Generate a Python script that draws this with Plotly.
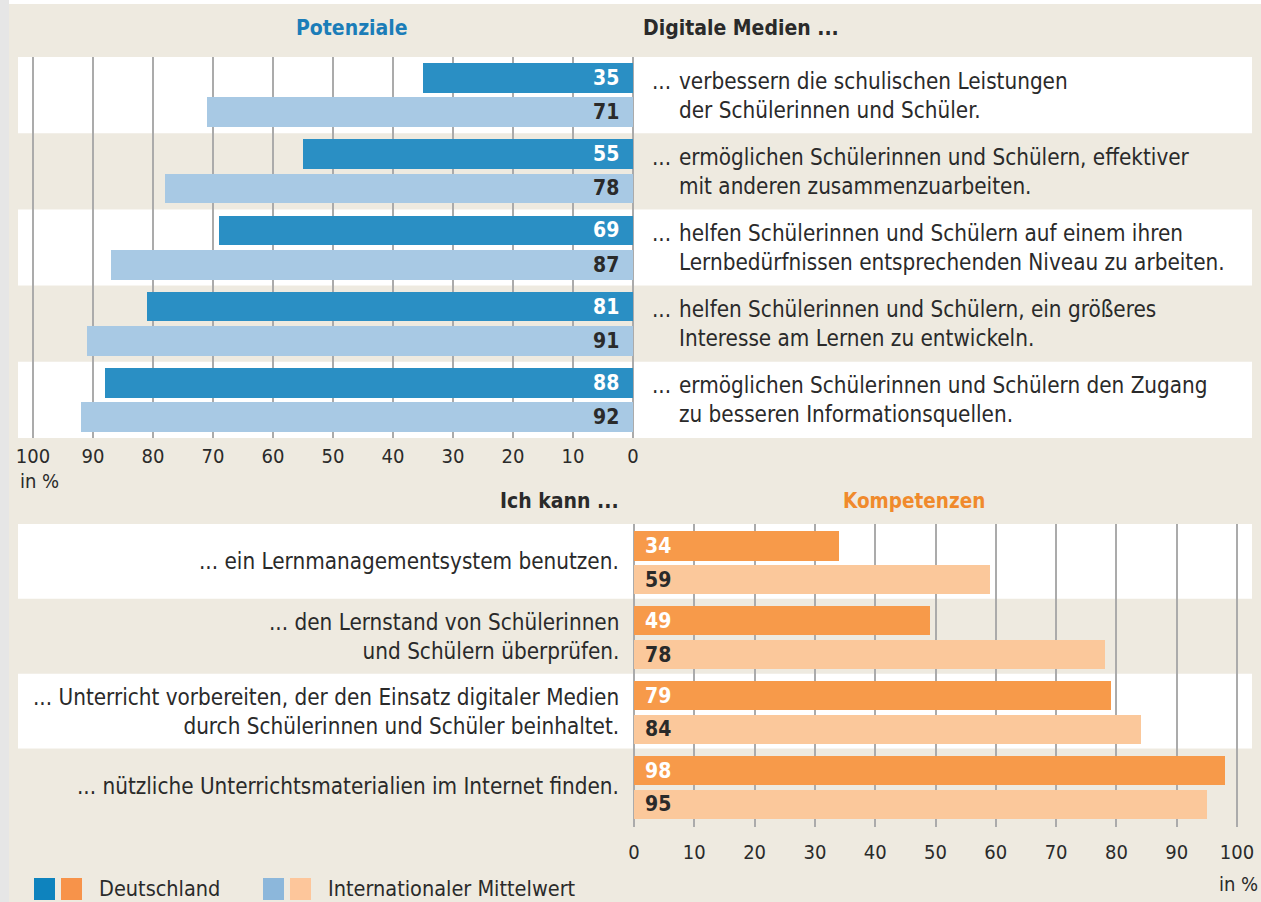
import plotly.graph_objects as go

W, H = 1261, 902

# ---------------- data ----------------
pot_labels = [
    ["verbessern die schulischen Leistungen", "der Schülerinnen und Schüler."],
    ["ermöglichen Schülerinnen und Schülern, effektiver", "mit anderen zusammenzuarbeiten."],
    ["helfen Schülerinnen und Schülern auf einem ihren", "Lernbedürfnissen entsprechenden Niveau zu arbeiten."],
    ["helfen Schülerinnen und Schülern, ein größeres", "Interesse am Lernen zu entwickeln."],
    ["ermöglichen Schülerinnen und Schülern den Zugang", "zu besseren Informationsquellen."],
]
pot_de = [35, 55, 69, 81, 88]
pot_int = [71, 78, 87, 91, 92]

komp_labels = [
    "... ein Lernmanagementsystem benutzen.",
    "... den Lernstand von Schülerinnen<br>und Schülern überprüfen.",
    "... Unterricht vorbereiten, der den Einsatz digitaler Medien<br>durch Schülerinnen und Schüler beinhaltet.",
    "... nützliche Unterrichtsmaterialien im Internet finden.",
]
komp_de = [34, 49, 79, 98]
komp_int = [59, 78, 84, 95]

tick_vals = [0, 10, 20, 30, 40, 50, 60, 70, 80, 90, 100]
tick_text = ["0", "10", "20", "30", "40", "50", "60", "70", "80", "90", "100"]

legend_names = ["Deutschland", "Internationaler Mittelwert"]

# ---------------- style ----------------
FONT = "Liberation Sans Narrow, DejaVu Sans Condensed, Arial Narrow, sans-serif"
BEIGE = "#EEEAE0"
TXT = "#2a2a2a"
GRID = "#ABABAB"
BLUE = "#2A8FC4"
LBLUE = "#A8C9E4"
ORANGE = "#F79A4A"
LORANGE = "#FBC89B"


def X(px):
    return px / W


def Y(py):
    return 1 - py / H


BW = 0.39
DE_OFF = -0.42
INT_OFF = 0.03
PAD = 0.4  # range padding (in %) so that 0 and 100 gridlines are drawn

fig = go.Figure()

top_y = list(range(len(pot_de)))
bot_y = list(range(len(komp_de)))

fig.add_trace(go.Bar(x=pot_de, y=top_y, orientation="h", marker=dict(color=BLUE, line=dict(width=0)),
                     width=BW, offset=DE_OFF, xaxis="x", yaxis="y", showlegend=False, hoverinfo="x"))
fig.add_trace(go.Bar(x=pot_int, y=top_y, orientation="h", marker=dict(color=LBLUE, line=dict(width=0)),
                     width=BW, offset=INT_OFF, xaxis="x", yaxis="y", showlegend=False, hoverinfo="x"))
fig.add_trace(go.Bar(x=komp_de, y=bot_y, orientation="h", marker=dict(color=ORANGE, line=dict(width=0)),
                     width=BW, offset=DE_OFF + 0.02, xaxis="x2", yaxis="y2", showlegend=False, hoverinfo="x"))
fig.add_trace(go.Bar(x=komp_int, y=bot_y, orientation="h", marker=dict(color=LORANGE, line=dict(width=0)),
                     width=BW, offset=INT_OFF + 0.02, xaxis="x2", yaxis="y2", showlegend=False, hoverinfo="x"))

shapes = []
ann = []

# background
shapes.append(dict(type="rect", xref="paper", yref="paper", x0=0, x1=X(9), y0=0, y1=1,
                   fillcolor="#E6E6E6", line=dict(width=0), layer="below"))
shapes.append(dict(type="rect", xref="paper", yref="paper", x0=X(9), x1=1, y0=0, y1=Y(4),
                   fillcolor=BEIGE, line=dict(width=0), layer="below"))

# white bands
for i in top_y:
    if i % 2 == 0:
        shapes.append(dict(type="rect", xref="paper", yref="y", x0=X(18), x1=X(1252),
                           y0=i - 0.5, y1=i + 0.5, fillcolor="white", line=dict(width=0), layer="below"))
for i in bot_y:
    if i % 2 == 0:
        shapes.append(dict(type="rect", xref="paper", yref="y2", x0=X(18), x1=X(1252),
                           y0=i - 0.5, y1=i + 0.5, fillcolor="white", line=dict(width=0), layer="below"))

VAL_FONT = 21
LBL_FONT = 22.3
HDR_FONT = 21
# value labels
for i, (d, n) in enumerate(zip(pot_de, pot_int)):
    ann.append(dict(x=0, y=i + DE_OFF + BW / 2, xref="x", yref="y", text=f"<b>{d}</b>", showarrow=False,
                    xanchor="right", xshift=-12, font=dict(family=FONT, size=VAL_FONT, color="white")))
    ann.append(dict(x=0, y=i + INT_OFF + BW / 2, xref="x", yref="y", text=f"<b>{n}</b>", showarrow=False,
                    xanchor="right", xshift=-12, font=dict(family=FONT, size=VAL_FONT, color=TXT)))
    ann.append(dict(x=X(650), y=i, xref="paper", yref="y", text="...", showarrow=False,
                    xanchor="left", font=dict(family=FONT, size=LBL_FONT, color=TXT), yshift=14.5))
    ann.append(dict(x=X(677), y=i, xref="paper", yref="y", text="<br>".join(pot_labels[i]), showarrow=False,
                    xanchor="left", align="left", font=dict(family=FONT, size=LBL_FONT, color=TXT)))
for i, (d, n) in enumerate(zip(komp_de, komp_int)):
    ann.append(dict(x=0, y=i + DE_OFF + 0.02 + BW / 2, xref="x2", yref="y2", text=f"<b>{d}</b>", showarrow=False,
                    xanchor="left", xshift=9, font=dict(family=FONT, size=VAL_FONT, color="white")))
    ann.append(dict(x=0, y=i + INT_OFF + 0.02 + BW / 2, xref="x2", yref="y2", text=f"<b>{n}</b>", showarrow=False,
                    xanchor="left", xshift=9, font=dict(family=FONT, size=VAL_FONT, color=TXT)))
    ann.append(dict(x=X(621), y=i, xref="paper", yref="y2", text=komp_labels[i], showarrow=False,
                    xanchor="right", align="right", font=dict(family=FONT, size=LBL_FONT, color=TXT)))

# headers
ann.append(dict(x=X(352), y=Y(28), xref="paper", yref="paper", text="<b>Potenziale</b>", showarrow=False,
                xanchor="center", yanchor="middle", font=dict(family=FONT, size=HDR_FONT, color="#1B7DB8")))
ann.append(dict(x=X(641), y=Y(28), xref="paper", yref="paper", text="<b>Digitale Medien ...</b>", showarrow=False,
                xanchor="left", yanchor="middle", font=dict(family=FONT, size=HDR_FONT, color=TXT)))
ann.append(dict(x=X(621), y=Y(501), xref="paper", yref="paper", text="<b>Ich kann ...</b>", showarrow=False,
                xanchor="right", yanchor="middle", font=dict(family=FONT, size=HDR_FONT, color=TXT)))
ann.append(dict(x=X(914), y=Y(501), xref="paper", yref="paper", text="<b>Kompetenzen</b>", showarrow=False,
                xanchor="center", yanchor="middle", font=dict(family=FONT, size=20.5, color="#F08A2C")))
ann.append(dict(x=X(18), y=Y(481), xref="paper", yref="paper", text="in %", showarrow=False,
                xanchor="left", yanchor="middle", font=dict(family=FONT, size=20, color=TXT)))
ann.append(dict(x=X(1260), y=Y(884), xref="paper", yref="paper", text="in %", showarrow=False,
                xanchor="right", yanchor="middle", font=dict(family=FONT, size=20, color=TXT)))

# legend
leg_cols = [["#0E83BE", "#F7934A"], ["#8CB7DB", "#FDC69B"]]
leg_x = [34, 263]
for k, name in enumerate(legend_names):
    for j, c in enumerate(leg_cols[k]):
        x0 = leg_x[k] + j * 27
        shapes.append(dict(type="rect", xref="paper", yref="paper", x0=X(x0), x1=X(x0 + 21),
                           y0=Y(900), y1=Y(878), fillcolor=c, line=dict(width=0)))
    ann.append(dict(x=X(leg_x[k] + 63), y=Y(888), xref="paper", yref="paper", text=name, showarrow=False,
                    xanchor="left", yanchor="middle", font=dict(family=FONT, size=21.5, color=TXT)))

axis_common = dict(tickmode="array", tickvals=tick_vals, ticktext=tick_text, showgrid=True, gridcolor=GRID,
                   gridwidth=1.5, ticks="", zeroline=False, automargin=False,
                   showline=False, tickfont=dict(family=FONT, size=20, color=TXT), fixedrange=True)

PX_PER = 6.0
fig.update_layout(
    width=W, height=H, margin=dict(l=0, r=0, t=0, b=0, pad=0, autoexpand=False), autosize=False,
    paper_bgcolor="white", plot_bgcolor="rgba(0,0,0,0)",
    xaxis=dict(domain=[X(33 - PAD * PX_PER), X(633 + PAD * PX_PER)], range=[100 + PAD, -PAD], anchor="y",
               ticklabelstandoff=4, **axis_common),
    yaxis=dict(domain=[Y(438), Y(57)], range=[len(pot_de) - 0.5, -0.5], showticklabels=False,
               showgrid=False, zeroline=False, fixedrange=True, anchor="x", automargin=False),
    xaxis2=dict(domain=[X(634 - PAD * PX_PER), X(1237 + PAD * PX_PER)], range=[-PAD, 100 + PAD], anchor="y2",
                ticklabelstandoff=11, **axis_common),
    yaxis2=dict(domain=[Y(827), Y(524)], range=[len(komp_de) - 0.5 + 0.05, -0.5], showticklabels=False,
                showgrid=False, zeroline=False, fixedrange=True, anchor="x2", automargin=False),
    shapes=shapes, annotations=ann, bargap=0,
    font=dict(family=FONT, color=TXT),
)

post = ("document.body.style.margin='0';document.body.style.padding='0';"
        "document.documentElement.style.overflow='hidden';document.body.style.overflow='hidden';")
fig.write_html("out.html", post_script=post, config={"responsive": False, "displayModeBar": False})
